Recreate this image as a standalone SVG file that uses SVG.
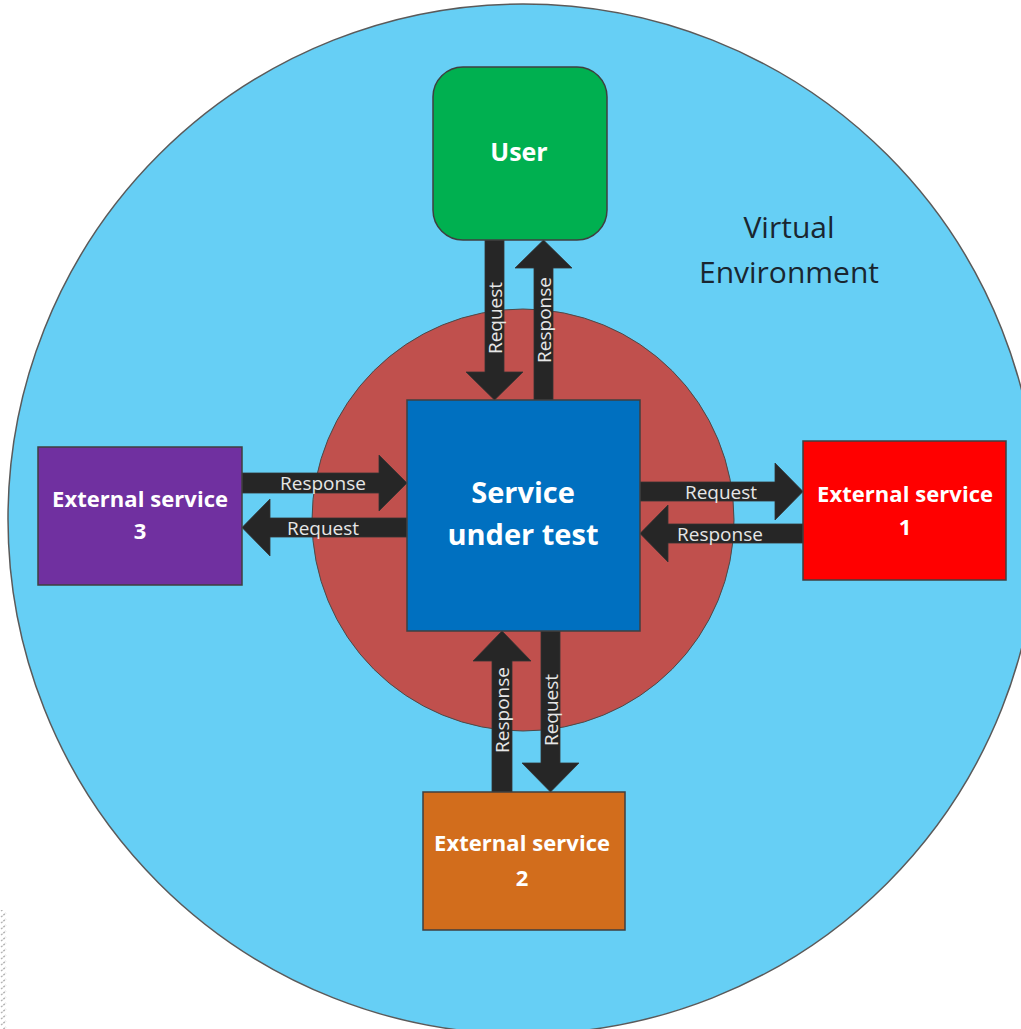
<svg xmlns="http://www.w3.org/2000/svg" width="1021" height="1029" viewBox="0 0 1021 1029">
  <defs>
    <style>
      .bg { fill: #ffffff; }
      .env { fill: #66cff5; stroke: #5a5a5a; stroke-width: 1.5; }
      .core { fill: #c0504d; stroke: #4a4a4a; stroke-width: 1; }
      .box { stroke: #3f3f3f; stroke-width: 1.5; }
      .arrow { fill: #262626; stroke: #333333; stroke-width: 0.8; }
      .node-label { font-family: "Open Sans", "Liberation Sans", sans-serif; font-weight: bold; fill: #ffffff; text-anchor: middle; }
      .flow-label { font-family: "Open Sans", "Liberation Sans", sans-serif; font-size: 19px; fill: #e6e6e6; text-anchor: middle; dominant-baseline: central; }
      .env-label { font-family: "Open Sans", "Liberation Sans", sans-serif; font-size: 30px; fill: #1a2630; text-anchor: middle; }
    </style>
    <pattern id="hatch" width="7" height="6" patternUnits="userSpaceOnUse">
      <line x1="1" y1="5" x2="6" y2="1" stroke="#b4b4b4" stroke-width="1.3" stroke-dasharray="2 1"/>
    </pattern>
  </defs>

  <rect class="bg" x="0" y="0" width="1021" height="1029"/>

  <!-- hatched strip along the lower left edge -->
  <rect x="0" y="910" width="7" height="119" fill="url(#hatch)"/>

  <!-- virtual environment and the core zone around the service -->
  <g id="environment">
    <circle class="env" cx="523" cy="519" r="515"/>
    <text class="env-label" x="789" y="238">Virtual</text>
    <text class="env-label" x="789" y="283">Environment</text>
  </g>
  <circle id="core-zone" class="core" cx="523" cy="520" r="211"/>

  <!-- request / response connectors -->
  <g id="connectors">
    <!-- user <-> service -->
    <polygon class="arrow" points="485,240 504,240 504,372 523,372 494.5,400 466,372 485,372"/>
    <polygon class="arrow" points="534,400 534,268 515,268 543.5,240 572,268 553,268 553,400"/>
    <text class="flow-label" transform="translate(494.5,318) rotate(-90)">Request</text>
    <text class="flow-label" transform="translate(543.5,320) rotate(-90)">Response</text>

    <!-- external service 3 <-> service -->
    <polygon class="arrow" points="242,473 379,473 379,455 407,483 379,511 379,493 242,493"/>
    <polygon class="arrow" points="407,518 270,518 270,499 242,527.5 270,556 270,537 407,537"/>
    <text class="flow-label" x="323" y="483">Response</text>
    <text class="flow-label" x="323" y="527.5">Request</text>

    <!-- service <-> external service 1 -->
    <polygon class="arrow" points="640,482 775,482 775,463 803,491.5 775,520 775,501 640,501"/>
    <polygon class="arrow" points="803,524 668,524 668,505 640,533.5 668,562 668,543 803,543"/>
    <text class="flow-label" x="721" y="491.5">Request</text>
    <text class="flow-label" x="720" y="533.5">Response</text>

    <!-- service <-> external service 2 -->
    <polygon class="arrow" points="492,792 492,661 473,661 502,631 531,661 512,661 512,792"/>
    <polygon class="arrow" points="541,631 560,631 560,763 579,763 550.5,792 522,763 541,763"/>
    <text class="flow-label" transform="translate(502,710) rotate(-90)">Response</text>
    <text class="flow-label" transform="translate(550.5,710) rotate(-90)">Request</text>
  </g>

  <g id="user">
    <rect class="box" x="433" y="67" width="174" height="173" rx="30" ry="30" fill="#00b050"/>
    <text class="node-label" x="519" y="161" font-size="25">User</text>
  </g>

  <g id="service-under-test">
    <rect class="box" x="407" y="400" width="233" height="231" fill="#0070c0"/>
    <text class="node-label" x="523" y="503" font-size="29">Service</text>
    <text class="node-label" x="523" y="545" font-size="29">under test</text>
  </g>

  <g id="external-service-1">
    <rect class="box" x="803" y="441" width="203" height="139" fill="#ff0000"/>
    <text class="node-label" x="905" y="502" font-size="22" textLength="176">External service</text>
    <text class="node-label" x="905" y="535" font-size="22">1</text>
  </g>

  <g id="external-service-2">
    <rect class="box" x="423" y="792" width="202" height="138" fill="#d26d1c"/>
    <text class="node-label" x="522" y="851" font-size="22" textLength="176">External service</text>
    <text class="node-label" x="522" y="886" font-size="22">2</text>
  </g>

  <g id="external-service-3">
    <rect class="box" x="38" y="447" width="204" height="138" fill="#7030a0"/>
    <text class="node-label" x="140" y="507" font-size="22" textLength="176">External service</text>
    <text class="node-label" x="140" y="539" font-size="22">3</text>
  </g>
</svg>
